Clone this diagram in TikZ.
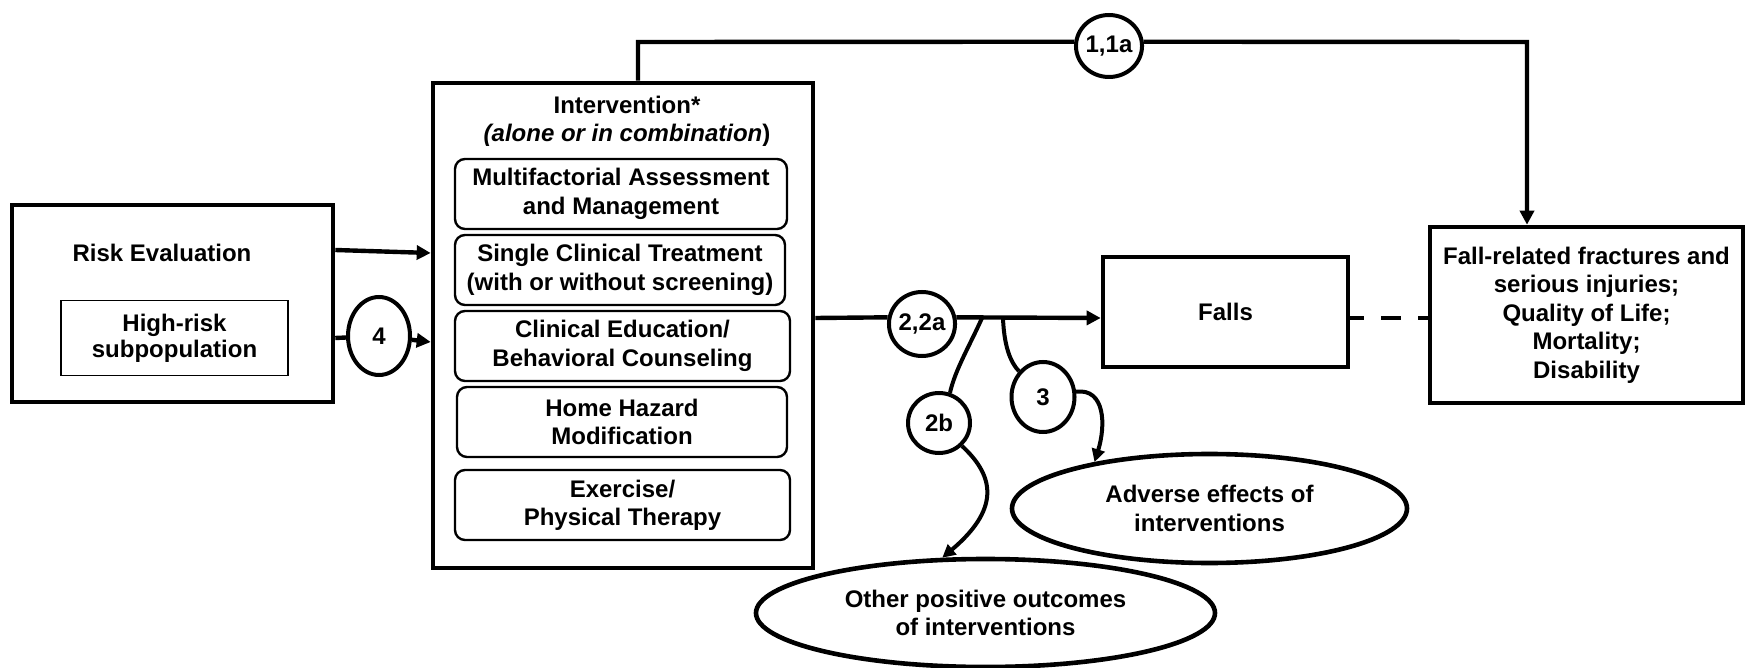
\documentclass[tikz,border=0pt]{standalone}
\usepackage{fontspec}
\setmainfont{Liberation Sans}
\usetikzlibrary{arrows.meta,shapes.geometric}
\begin{document}
\begin{tikzpicture}[x=0.5pt,y=-0.5pt,
  txt/.style={font=\bfseries\fontsize{12}{14.2}\selectfont, align=center, inner sep=0pt},
  bigbox/.style={txt, draw, line width=2.3pt},
  subbox/.style={txt, draw, line width=1.2pt, rounded corners=5pt, minimum height=35pt},
  num/.style={txt, draw, ellipse, line width=2pt, fill=white},
  oval/.style={txt, draw, ellipse, line width=2.3pt},
  ln/.style={line width=2.2pt},
  arr/.style={line width=2.2pt, -{Triangle[length=7pt,width=7pt]}},
  curvln/.style={line width=2pt},
  curvarr/.style={line width=2pt, -{Triangle[length=6.5pt,width=6.5pt]}}
]
\useasboundingbox (0,0) rectangle (1747,668);

% Risk evaluation
\node[bigbox, minimum width=160.5pt, minimum height=98.5pt] (risk) at (172.5,303.5) {};
\node[txt] (risklbl) at (162,253) {Risk Evaluation};
\node[txt, draw, line width=0.7pt, minimum width=113.5pt, minimum height=37.5pt,
      font=\bfseries\fontsize{12}{13}\selectfont] (hr) at (174.5,338) {High-risk\\subpopulation};

% Intervention
\node[bigbox, minimum width=190pt, minimum height=242.5pt] (intv) at (623,325.5) {};
\node[txt] (intvt) at (627,121) {Intervention*\\\textit{(alone or in combination})};
\node[subbox, minimum width=166pt] (b1) at (621,194) {Multifactorial Assessment\\and Management};
\node[subbox, minimum width=165pt] (b2) at (620,270) {Single Clinical Treatment\\(with or without screening)};
\node[subbox, minimum width=167.5pt] (b3) at (622.5,346) {Clinical Education/\\Behavioral Counseling};
\node[subbox, minimum width=165pt] (b4) at (622,422) {Home Hazard\\Modification};
\node[subbox, minimum width=167.5pt] (b5) at (622.5,505) {Exercise/\\Physical Therapy};

% Outcomes
\node[bigbox, minimum width=122.5pt, minimum height=55pt] (falls) at (1225.5,312) {Falls};
\node[bigbox, minimum width=156.5pt, minimum height=88pt] (outc) at (1586.5,315)
  {Fall-related fractures and\\serious injuries;\\Quality of Life;\\Mortality;\\Disability};
\node[oval, minimum width=197.5pt, minimum height=54.5pt] (adv) at (1209.5,508.5) {Adverse effects of\\interventions};
\node[oval, minimum width=229.5pt, minimum height=54pt] (oth) at (985.5,613) {Other positive outcomes\\of interventions};

% Key question circles
\node[num, minimum width=31pt, minimum height=31pt] (c11) at (1109,46) {1,1a};
\node[num, minimum width=31pt, minimum height=32pt] (c22) at (922,324) {2,2a};
\node[num, minimum width=31pt, minimum height=30pt] (c2b) at (939,423) {2b};
\node[num, minimum width=31.5pt, minimum height=35pt] (c3) at (1043,397) {3};
\node[num, minimum width=31pt, minimum height=39pt] (c4) at (379,336) {4};

% Coordinates
\coordinate (tl) at (638,42);
\coordinate (tr) at (1527,42);
\coordinate (j1) at (982,318);
\coordinate (j2) at (1003,318);

% Connectors
\draw[arr] (risk.east |- 0,250) -- (intv.west |- 0,253);
\draw[ln] (risk.east |- 0,338) -- (c4);
\draw[arr] (c4) -- (intv.west |- 0,342);

\draw[ln] (intv.north -| tl) -- (tl) -- (c11.173);
\draw[arr] (c11.7) -- (tr) -- (outc.north -| tr);

\draw[ln] (intv.east |- 0,318) -- (c22.169);
\draw[arr] (c22.11) -- (falls.west |- 0,318);

\draw[ln, dash pattern=on 10pt off 8.5pt, dash phase=3pt] (falls.east |- 0,318) -- (outc.west |- 0,318);

\draw[curvln] (j1) .. controls (970,345) and (955,370) .. (c2b.70);
\draw[curvln] (j2) .. controls (1004,345) and (1010,362) .. (c3.133);
\draw[curvarr] (c3.9) .. controls (1105,388) and (1106,425) .. (adv.158);
\draw[curvarr] (c2b.-45) .. controls (990,472) and (1005,505) .. (oth.128);
\end{tikzpicture}
\end{document}
